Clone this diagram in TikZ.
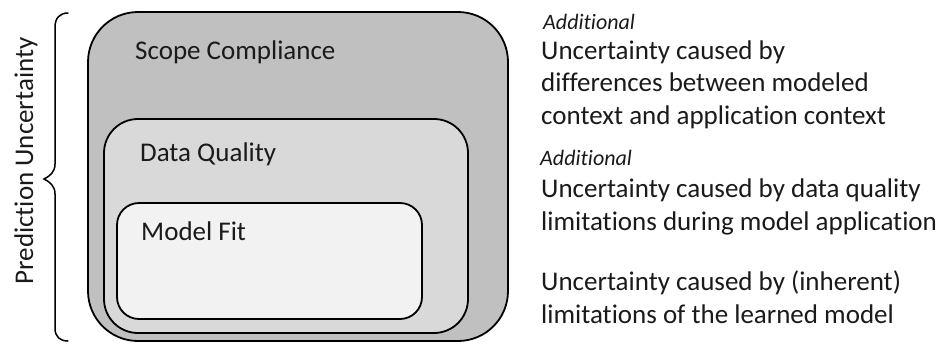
\documentclass[tikz,border=0pt]{standalone}
\usepackage{fontspec}
\setmainfont{Carlito}[Ligatures={NoCommon,NoContextual}]
\definecolor{outerc}{HTML}{C0C0C0}
\definecolor{midc}{HTML}{D9D9D9}
\definecolor{innerc}{HTML}{F2F2F2}
\definecolor{txt}{HTML}{1A1A1A}
\begin{document}
\begin{tikzpicture}[x=1pt,y=-1pt,
  boxshape/.style={draw=black, line width=1.8pt, rectangle, inner sep=0pt},
  lbl/.style={anchor=base west, inner sep=0pt, text=txt, font=\fontsize{27}{32}\selectfont},
  addl/.style={anchor=base west, inner sep=0pt, text=txt, font=\fontsize{22}{26}\selectfont\itshape}]
\useasboundingbox (0,0) rectangle (945,343);
% nested boxes
\node[boxshape, fill=outerc, minimum width=420pt, minimum height=329pt, rounded corners=50pt] (outer) at (298,176.5) {};
\node[boxshape, fill=midc, minimum width=364pt, minimum height=214pt, rounded corners=34pt] (mid) at (286,226) {};
\node[boxshape, fill=innerc, minimum width=305pt, minimum height=116pt, rounded corners=22pt] (inner) at (269.5,261) {};
% box labels
\node[lbl] (scope) at (135,59) {Scope Compliance};
\node[lbl] (dq) at (140,161) {Data Quality};
\node[lbl] (mf) at (141,240) {Model Fit};
% brace
\draw[line width=1.5pt, line cap=round] (68,13) .. controls (60,13) and (55,18) .. (55,27) -- (55,164)
  .. controls (55,172) and (50,176) .. (44,179) .. controls (50,182) and (55,186) .. (55,194)
  -- (55,328) .. controls (55,337) and (60,341) .. (68,341);
\node[lbl, anchor=base, rotate=90] (pu) at (33,161) {Prediction Uncertainty};
% right texts
\node[addl] (a1) at (543,29) {Additional};
\node[lbl] (t1) at (541,59.3) {Uncertainty caused by};
\node[lbl] (t2) at (541,91.7) {differences between modeled};
\node[lbl] (t3) at (541,124) {context and application context};
\node[addl] (a2) at (540,165) {Additional};
\node[lbl] (t4) at (541,197) {Uncertainty caused by data quality};
\node[lbl] (t5) at (541,230) {limitations during model application};
\node[lbl] (t6) at (541,290) {Uncertainty caused by (inherent)};
\node[lbl] (t7) at (541,323) {limitations of the learned model};
\end{tikzpicture}
\end{document}
